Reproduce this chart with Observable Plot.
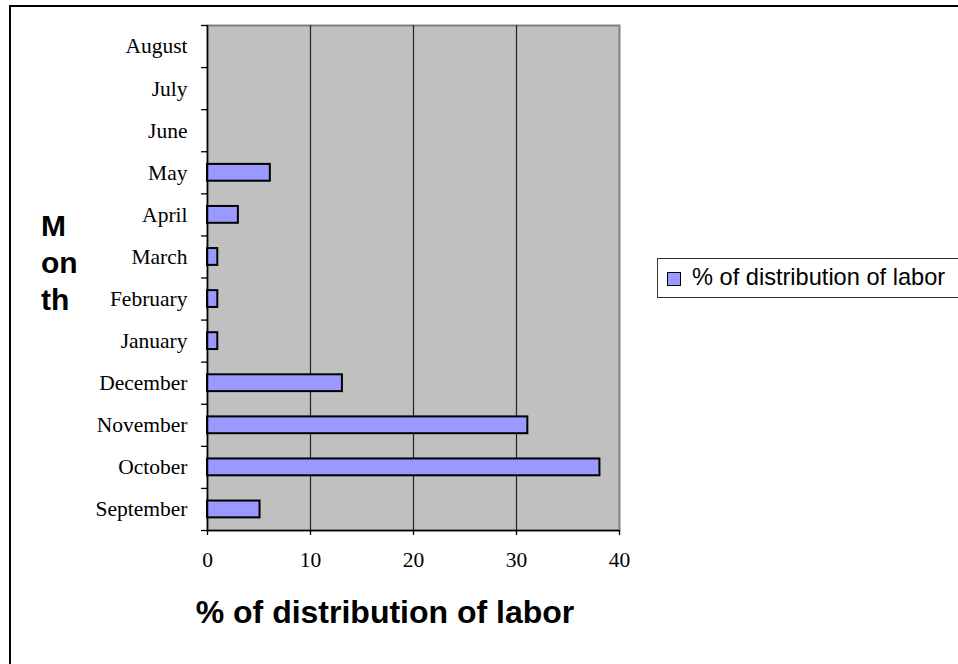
<!DOCTYPE html>
<html>
<head>
<meta charset="utf-8">
<script src="https://cdn.jsdelivr.net/npm/d3@7"></script>
<script src="https://cdn.jsdelivr.net/npm/@observablehq/plot@0.6"></script>
<style>
  html, body { margin: 0; padding: 0; background: #fff; }
  #wrap { position: relative; width: 958px; height: 664px; overflow: hidden; }
  #outer { position: absolute; left: 9px; top: 5px; width: 1000px; height: 700px;
           border-top: 2.5px solid #000; border-left: 2.5px solid #000; box-sizing: border-box; }
  #chart { position: absolute; left: 0; top: 0; }
  #xtitle { position: absolute; left: 185px; top: 594px; width: 400px; text-align: center;
            font: bold 32px "Liberation Sans", Arial, sans-serif; white-space: nowrap; }
  #ytitle { position: absolute; left: 41px; top: 207px;
            font: bold 30px "Liberation Sans", Arial, sans-serif; line-height: 37px; }
  #legend { position: absolute; left: 657px; top: 258px; width: 302px; height: 40px;
            border: 1px solid #333; box-sizing: border-box;
            font: 23.6px "Liberation Sans", Arial, sans-serif; }
  #legend .sw { position: absolute; left: 9px; top: 13px; width: 14px; height: 14px;
                background: #9999ff; border: 1.5px solid #000; box-sizing: border-box; }
  #legend .lab { position: absolute; left: 34px; top: 5px; white-space: nowrap; line-height: 27px; }
</style>
</head>
<body>
<div id="wrap">
  <div id="outer"></div>
  <div id="chart"></div>
  <div id="ytitle">M<br>on<br>th</div>
  <div id="xtitle">% of distribution of labor</div>
  <div id="legend"><div class="sw"></div><div class="lab">% of distribution of labor</div></div>
</div>
<script>
const months = ["September","October","November","December","January","February","March","April","May","June","July","August"];
const values = [5.1, 38.1, 31.1, 13.1, 1, 1, 1, 3, 6.1, 0, 0, 0];
const xTicks = [0, 10, 20, 30, 40];
const gridValues = [10, 20, 30];
const seriesName = "% of distribution of labor";

const data = months.map((m, i) => ({month: m, i, value: values[i]}));

const chart = Plot.plot({
  width: 958,
  height: 664,
  marginLeft: 207,
  marginRight: 339,
  marginTop: 25,
  marginBottom: 134,
  style: {fontFamily: "'Liberation Serif', 'Times New Roman', serif", fontSize: "21.5px", color: "#000", background: "transparent"},
  x: {domain: [0, 40]},
  y: {domain: [0, 12]},
  marks: [
    Plot.frame({fill: "#c0c0c0", stroke: "#808080", strokeWidth: 2}),
    Plot.ruleX(gridValues, {stroke: "#222", strokeWidth: 1.2}),
    Plot.rectX(data.filter(d => d.value > 0), {
      x1: 0, x2: "value",
      y1: d => d.i + 0.3, y2: d => d.i + 0.7,
      fill: "#9999ff", stroke: "#000", strokeWidth: 2
    }),
    Plot.ruleX([0], {stroke: "#000", strokeWidth: 1.5}),
    Plot.ruleY([0], {stroke: "#000", strokeWidth: 1.5}),
    Plot.axisY({ticks: d3.range(months.length + 1), tickFormat: () => "", tickSize: 6, strokeWidth: 1.3, label: null}),
    Plot.axisY({ticks: data.map(d => d.i + 0.5), tickFormat: v => months[Math.floor(v)], tickSize: 0, tickPadding: 20, label: null}),
    Plot.axisX({ticks: xTicks, tickFormat: d => String(d), tickSize: 5, strokeWidth: 1.3, tickPadding: 16, label: null})
  ]
});
document.getElementById("chart").appendChild(chart);
</script>
</body>
</html>
